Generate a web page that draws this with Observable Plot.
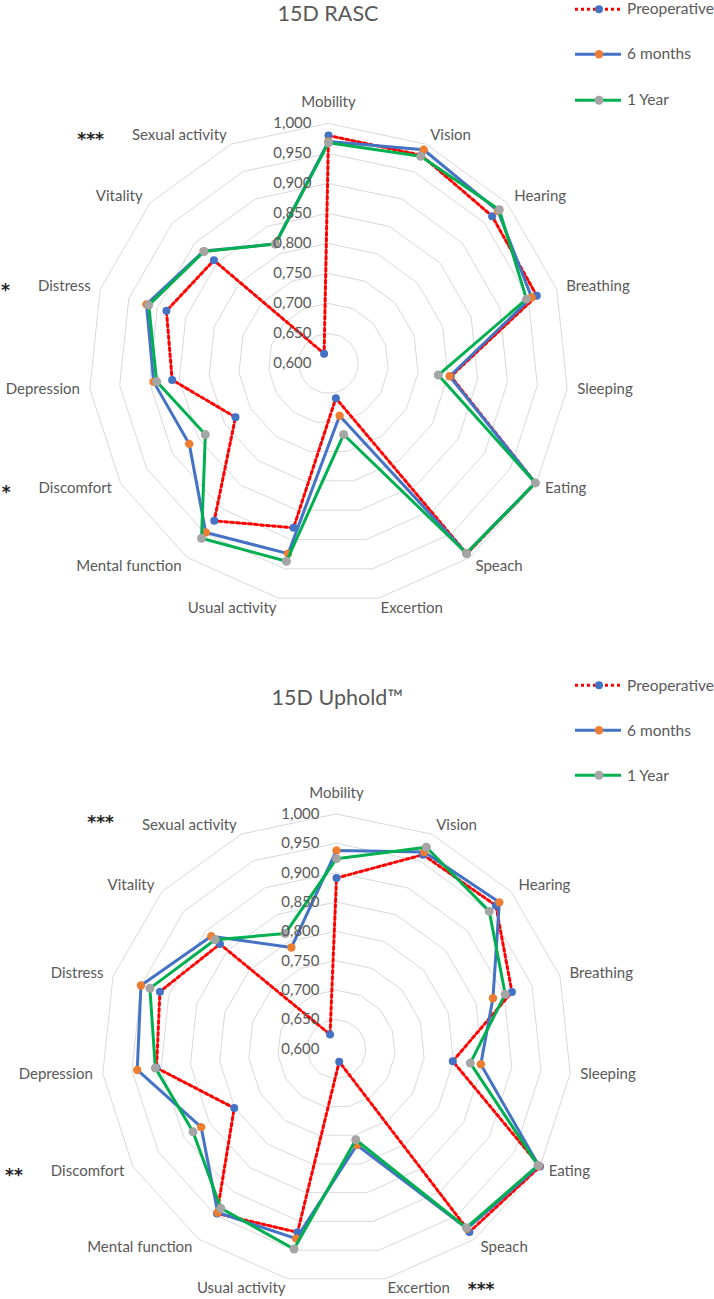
<!DOCTYPE html>
<html><head><meta charset="utf-8">
<script src="https://cdn.jsdelivr.net/npm/d3@7"></script>
<script src="https://cdn.jsdelivr.net/npm/@observablehq/plot@0.6"></script>
<style>
html,body{margin:0;padding:0;background:#fff;}
#root{position:relative;width:714px;height:1299px;overflow:hidden;font-family:Lato,sans-serif;color:#595959;}
.title{position:absolute;font-size:21.5px;transform:translate(-50%,-50%);white-space:nowrap;line-height:1;}
.leg{position:absolute;left:575px;display:flex;align-items:center;font-size:15.5px;white-space:nowrap;transform:translateY(-50%);line-height:1;}
.leg svg{margin-right:6px;}
</style></head><body><div id="root"></div>
<script>
// ---------- data ----------
const categories = ["Mobility","Vision","Hearing","Breathing","Sleeping","Eating","Speach","Excertion","Usual activity","Mental function","Discomfort","Depression","Distress","Vitality","Sexual activity"];
const tickValues = [0.6,0.65,0.7,0.75,0.8,0.85,0.9,0.95,1.0];
const seriesNames = ["Preoperative","6 months","1 Year"];

const rascPre   = [0.980,0.980,0.967,0.965,0.805,0.998,0.992,0.659,0.880,0.924,0.779,0.862,0.884,0.857,0.618];
const rasc6m    = [0.970,0.990,0.980,0.956,0.803,0.998,0.991,0.689,0.924,0.948,0.868,0.893,0.919,0.880,0.818];
const rasc1y    = [0.968,0.978,0.983,0.947,0.784,0.998,0.991,0.721,0.937,0.960,0.837,0.888,0.915,0.879,0.818];
const rascSig   = {"Sexual activity":"***","Distress":"*","Discomfort":"*"};

const upholdPre = [0.891,0.962,0.965,0.914,0.799,1.000,0.985,0.622,0.919,0.946,0.801,0.908,0.916,0.867,0.627];
const uphold6m  = [0.938,0.967,0.973,0.880,0.847,0.998,0.978,0.767,0.930,0.944,0.866,0.941,0.950,0.887,0.789];
const uphold1y  = [0.924,0.976,0.950,0.902,0.829,0.996,0.976,0.758,0.948,0.935,0.882,0.910,0.934,0.878,0.815];
const upholdSig = {"Sexual activity":"***","Discomfort":"**","Excertion":"***"};

// ---------- styles ----------
const styles = {
  "Preoperative": {stroke:"#FF0000", dash:"3,3", marker:"#4472C4", r:4},
  "6 months":     {stroke:"#4472C4", dash:null,  marker:"#ED7D31", r:4.2},
  "1 Year":       {stroke:"#00B050", dash:null,  marker:"#A5A5A5", r:4.5}
};
const FONT = "Lato, sans-serif";
const TXT = "#595959";

const lon = d3.scalePoint(categories, [180, 180 - 24 * (categories.length - 1)]);
const rad = d3.scaleLinear([0.6, 1.0], [90, 50]); // value -> latitude (distance from pole)
const fmt = v => d3.format(".3f")(v).replace(".", ",");

const ctx = document.createElement("canvas").getContext("2d");
const LABEL_SIZE = 15;
ctx.font = `${LABEL_SIZE}px Lato`;
const textW = s => ctx.measureText(s).width;

function radar({series, sig, sigDy, cx, cy, R, height}) {
  const rows = [];
  seriesNames.forEach((s, k) => categories.forEach((c, i) => rows.push({series: s, category: c, value: series[k][i]})));
  const ringRows = [];
  tickValues.slice(1).forEach(t => categories.forEach(c => ringRows.push({ring: t, category: c})));
  const idx = c => categories.indexOf(c);
  const labelVal = 0.6 + 0.4 * (R + 10) / R;
  const anchor = c => { const i = idx(c); return i === 0 ? "middle" : (i <= 7 ? "start" : "end"); };
  const sigRows = Object.keys(sig).map(c => ({category: c, text: sig[c]}));
  const labelOpts = {x: c => lon(c), y: () => rad(labelVal), text: c => c, fontSize: LABEL_SIZE, fill: TXT, fontFamily: FONT};

  const marks = [
    Plot.line(ringRows, {x: d => lon(d.category), y: d => rad(d.ring), z: "ring", curve: "linear-closed", stroke: "#D9D9D9", strokeWidth: 1})
  ];
  seriesNames.forEach(s => {
    const st = styles[s];
    const data = rows.filter(d => d.series === s);
    marks.push(Plot.line(data, {x: d => lon(d.category), y: d => rad(d.value), curve: "linear-closed", stroke: st.stroke, strokeWidth: 3, strokeDasharray: st.dash, strokeLinejoin: "round"}));
    marks.push(Plot.dot(data, {x: d => lon(d.category), y: d => rad(d.value), r: st.r, fill: st.marker, stroke: "none"}));
  });
  marks.push(Plot.text(tickValues, {x: () => lon(categories[0]), y: v => rad(v), text: fmt, textAnchor: "end", dx: -17, fontSize: LABEL_SIZE, fill: TXT, fontFamily: FONT}));
  marks.push(Plot.text(categories.filter(c => anchor(c) === "start"), {...labelOpts, textAnchor: "start"}));
  marks.push(Plot.text(categories.filter(c => anchor(c) === "end"), {...labelOpts, textAnchor: "end"}));
  marks.push(Plot.text(categories.filter(c => anchor(c) === "middle"), {...labelOpts, textAnchor: "middle", dy: -11}));
  // significance stars beside category labels
  sigRows.forEach(d => {
    const left = anchor(d.category) === "end";
    const w = textW(d.category);
    marks.push(Plot.text([d], {x: r => lon(r.category), y: () => rad(labelVal), text: "text", textAnchor: left ? "end" : "start", dx: left ? -(w + 28) : (w + 18), dy: 4 + (sigDy[d.category] || 0), fontSize: 17, fontWeight: "bold", fill: "#222", fontFamily: "DejaVu Sans"}));
  });

  return Plot.plot({
    width: 714, height,
    marginLeft: cx - R, marginRight: 714 - cx - R, marginTop: cy - R, marginBottom: height - cy - R,
    projection: {type: "azimuthal-equidistant", rotate: [0, -90], domain: d3.geoCircle().center([0, 90]).radius(40)(), clip: false},
    style: {background: "transparent", overflow: "visible"},
    marks
  });
}

const root = document.getElementById("root");
function addPanel(svg, top) { svg.style.position = "absolute"; svg.style.left = "0px"; svg.style.top = top + "px"; root.appendChild(svg); }
function addTitle(text, x, y) { const d = document.createElement("div"); d.className = "title"; d.textContent = text; d.style.left = x + "px"; d.style.top = y + "px"; root.appendChild(d); }
function addLegend(y0, step) {
  seriesNames.forEach((s, k) => {
    const st = styles[s];
    const row = document.createElement("div"); row.className = "leg"; row.style.top = (y0 + k * step) + "px";
    const ns = "http://www.w3.org/2000/svg";
    const sv = document.createElementNS(ns, "svg"); sv.setAttribute("width", 46); sv.setAttribute("height", 12);
    const ln = document.createElementNS(ns, "line");
    ln.setAttribute("x1", 0); ln.setAttribute("x2", 46); ln.setAttribute("y1", 6); ln.setAttribute("y2", 6);
    ln.setAttribute("stroke", st.stroke); ln.setAttribute("stroke-width", 3); if (st.dash) ln.setAttribute("stroke-dasharray", st.dash);
    const c = document.createElementNS(ns, "circle"); c.setAttribute("cx", 24); c.setAttribute("cy", 6); c.setAttribute("r", st.r); c.setAttribute("fill", st.marker);
    sv.appendChild(ln); sv.appendChild(c);
    const t = document.createElement("span"); t.textContent = s;
    row.appendChild(sv); row.appendChild(t); root.appendChild(row);
  });
}

addPanel(radar({series: [rascPre, rasc6m, rasc1y], sig: rascSig, sigDy: {}, cx: 328, cy: 363, R: 240, height: 650}), 0);
addPanel(radar({series: [upholdPre, uphold6m, uphold1y], sig: upholdSig, sigDy: {"Sexual activity": -7, "Excertion": -3}, cx: 336, cy: 398.5, R: 235, height: 649}), 650);
addTitle("15D RASC", 328, 13.5);
addTitle("15D Uphold™", 337.5, 698);
addLegend(8.8, 45.5);
addLegend(685.7, 45);
</script></body></html>
